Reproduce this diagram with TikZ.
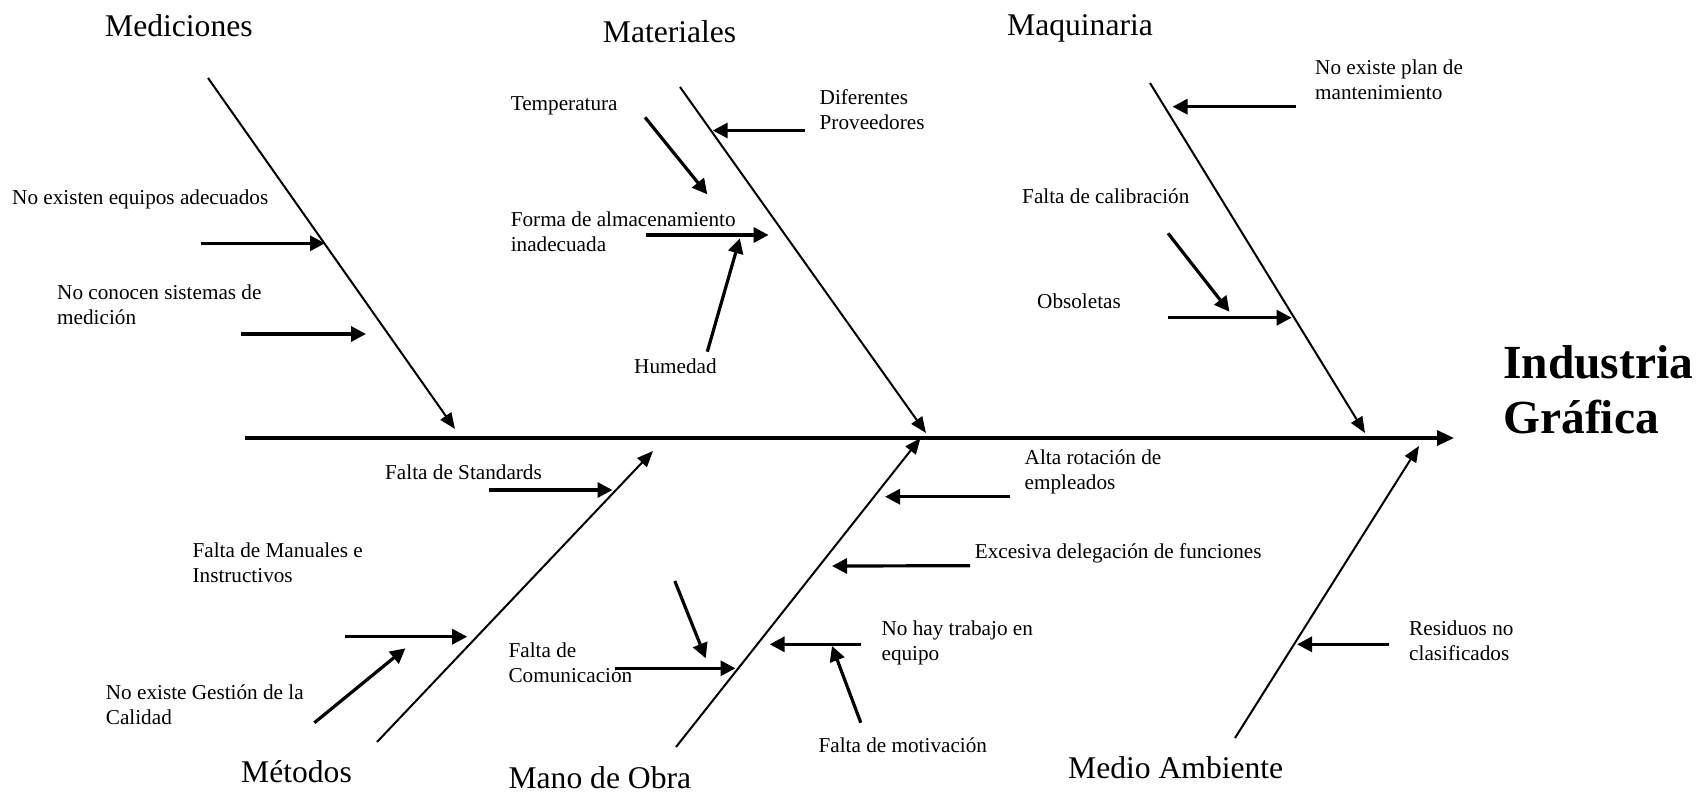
\documentclass[tikz,border=0pt]{standalone}
\usepackage{fontspec}
\setmainfont{Liberation Serif}
\usetikzlibrary{arrows.meta}
\begin{document}
\begin{tikzpicture}[x=1pt,y=-1pt,
  cause/.style={font=\fontsize{21.2}{25}\selectfont, inner sep=0pt, anchor=base west, align=left},
  category/.style={font=\fontsize{31.6}{38}\selectfont, inner sep=0pt, anchor=base west},
  effect/.style={font=\fontsize{47.5}{55}\selectfont\bfseries, inner sep=0pt, anchor=base west, align=left},
  spine/.style={line width=3.2pt, -{Triangle[length=17pt,width=15pt]}},
  bone/.style={line width=2pt, -{Triangle[length=16pt,width=13pt]}},
  rib/.style={line width=3.2pt, -{Triangle[length=15pt,width=15pt]}}]
\useasboundingbox (0,0) rectangle (1699,793);

% spine and effect (multi-line nodes are anchored at the baseline of their last line)
\coordinate (spL) at (245,438);
\coordinate (spR) at (1454,438);
\draw[spine] (spL) -- (spR);
\node[effect] (eff) at (1503,433) {Industria\\Gráfica};

% category headings
\node[category] (cMed) at (105,36.5) {Mediciones};
\node[category] (cMat) at (602.7,42.3) {Materiales};
\node[category] (cMaq) at (1007,35.7) {Maquinaria};
\node[category] (cMet) at (241,782.5) {Métodos};
\node[category] (cMan) at (508.4,788.5) {Mano de Obra};
\node[category] (cAmb) at (1068,778.5) {Medio Ambiente};

% main bones
\coordinate (bMed0) at (208,78);    \coordinate (bMed1) at (455,429);
\coordinate (bMat0) at (680,87);    \coordinate (bMat1) at (926,433);
\coordinate (bMaq0) at (1150,83);   \coordinate (bMaq1) at (1365,433);
\coordinate (bMet0) at (377,742);   \coordinate (bMet1) at (653,451);
\coordinate (bMan0) at (676,747);   \coordinate (bMan1) at (920.5,438);
\coordinate (bAmb0) at (1235,738);  \coordinate (bAmb1) at (1419,446);
\draw[bone] (bMed0) -- (bMed1);
\draw[bone] (bMat0) -- (bMat1);
\draw[bone] (bMaq0) -- (bMaq1);
\draw[bone] (bMet0) -- (bMet1);
\draw[bone] (bMan0) -- (bMan1);
\draw[bone] (bAmb0) -- (bAmb1);

% Mediciones
\node[cause] (t1) at (12,204) {No existen equipos adecuados};
\node[cause] (t2) at (57,324) {No conocen sistemas de\\medición};
\coordinate (r1a) at (200.5,243.3); \coordinate (r1b) at (325,243.3);
\coordinate (r2a) at (241,334);     \coordinate (r2b) at (366,334);
\draw[rib] (r1a) -- (r1b);
\draw[rib] (r2a) -- (r2b);

% Materiales
\node[cause] (t3) at (510.6,110) {Temperatura};
\node[cause] (t4) at (819.5,129.7) {Diferentes\\Proveedores};
\node[cause] (t5) at (510.6,251) {Forma de almacenamiento\\inadecuada};
\node[cause] (t6) at (634,373) {Humedad};
\coordinate (r3a) at (645,117.3);   \coordinate (r3b) at (707.3,194.3);
\coordinate (r4a) at (805,130.5);   \coordinate (r4b) at (712.7,130.5);
\coordinate (r5a) at (646,235);     \coordinate (r5b) at (768.6,235);
\coordinate (r6a) at (707.3,351.7); \coordinate (r6b) at (739.8,238.3);
\draw[rib] (r3a) -- (r3b);
\draw[rib] (r4a) -- (r4b);
\draw[rib] (r5a) -- (r5b);
\draw[rib] (r6a) -- (r6b);

% Maquinaria
\node[cause] (t7) at (1315,99) {No existe plan de\\mantenimiento};
\node[cause] (t8) at (1022,203.7) {Falta de calibración};
\node[cause] (t9) at (1037,308.5) {Obsoletas};
\coordinate (r7a) at (1295.5,106.7); \coordinate (r7b) at (1172.5,106.7);
\coordinate (r8a) at (1168,233.3);   \coordinate (r8b) at (1229.4,311.7);
\coordinate (r9a) at (1168,317.7);   \coordinate (r9b) at (1291.7,317.7);
\draw[rib] (r7a) -- (r7b);
\draw[rib] (r8a) -- (r8b);
\draw[rib] (r9a) -- (r9b);

% Métodos
\node[cause] (t10) at (385,479) {Falta de Standards};
\node[cause] (t11) at (192.4,582.7) {Falta de Manuales e\\Instructivos};
\node[cause] (t12) at (105.7,724) {No existe Gestión de la\\Calidad};
\coordinate (r10a) at (489.4,490);   \coordinate (r10b) at (612.5,490);
\coordinate (r11a) at (344.7,636.7); \coordinate (r11b) at (467.2,636.7);
\coordinate (r12a) at (314.4,722.7); \coordinate (r12b) at (405.4,648.3);
\draw[rib] (r10a) -- (r10b);
\draw[rib] (r11a) -- (r11b);
\draw[rib] (r12a) -- (r12b);

% Mano de Obra
\node[cause] (t13) at (508.4,682.7) {Falta de\\Comunicación};
\node[cause] (t14) at (1024.5,489) {Alta rotación de\\empleados};
\node[cause] (t15) at (974.7,558.3) {Excesiva delegación de funciones};
\node[cause] (t16) at (881.4,660) {No hay trabajo en\\equipo};
\node[cause] (t17) at (818.4,752.7) {Falta de motivación};
\coordinate (r13a) at (615,668.3);   \coordinate (r13b) at (735.5,668.3);
\coordinate (r13c) at (674.8,581);   \coordinate (r13d) at (705.7,658.3);
\coordinate (r14a) at (1010,496.7);  \coordinate (r14b) at (885,496.7);
\coordinate (r15a) at (970,565.7);   \coordinate (r15b) at (832,566);
\coordinate (r16a) at (860.8,644.3); \coordinate (r16b) at (769.6,644.3);
\coordinate (r17a) at (860.8,722.7); \coordinate (r17b) at (832,646);
\draw[rib] (r13a) -- (r13b);
\draw[rib] (r13c) -- (r13d);
\draw[rib] (r14a) -- (r14b);
\draw[rib] (r15a) -- (r15b);
\draw[rib] (r16a) -- (r16b);
\draw[rib] (r17a) -- (r17b);

% Medio Ambiente
\node[cause] (t18) at (1409,660) {Residuos no\\clasificados};
\coordinate (r18a) at (1389,644.3); \coordinate (r18b) at (1297,644.3);
\draw[rib] (r18a) -- (r18b);
\end{tikzpicture}
\end{document}
